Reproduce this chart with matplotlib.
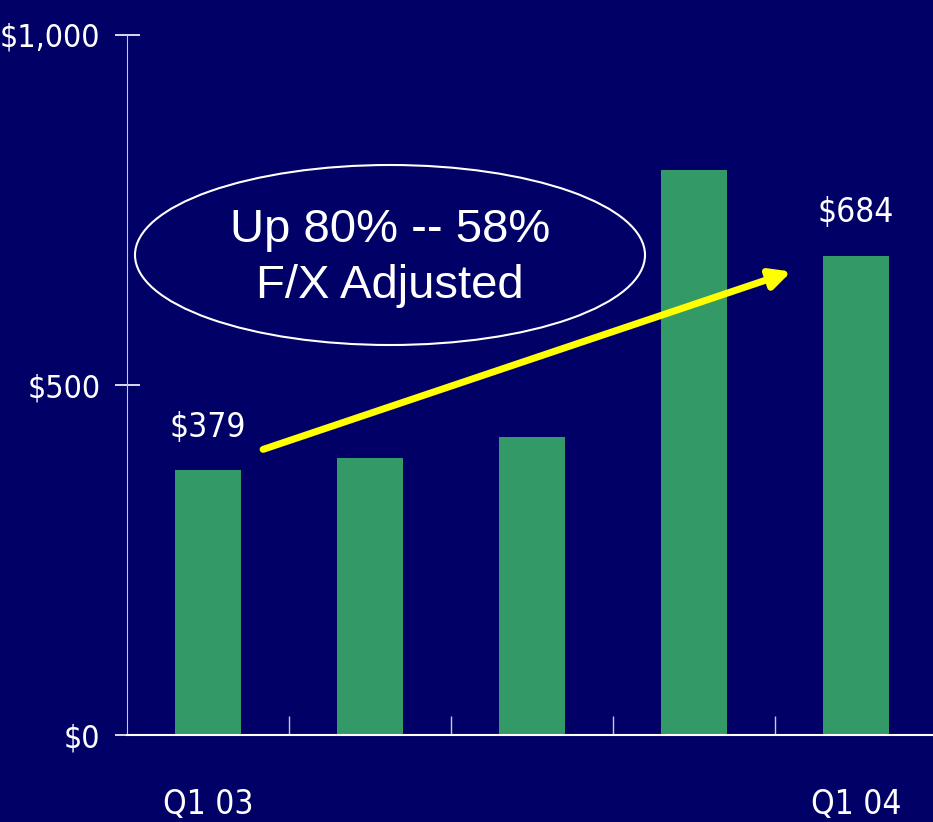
import matplotlib
matplotlib.use('Agg')
import matplotlib.pyplot as plt
from matplotlib.patches import Ellipse
from matplotlib import font_manager

# quarterly values, Q1 03 .. Q1 04
quarters = ['Q1 03', '', '', '', 'Q1 04']
values = [379, 396, 426, 807, 684]
yticks = [0, 500, 1000]
ytick_labels = ['$0', '$500', '$1,000']

bg = '#000066'
bar_color = '#339966'

# look for a narrow face (Arial Narrow look), else shrink regular sans
narrow = None
for f in font_manager.fontManager.ttflist:
    fn = f.fname.lower()
    if 'narrow' in fn or ('condensed' in fn and 'bold' not in fn and 'oblique' not in fn):
        narrow = f
        break
if narrow is not None:
    lab_font = dict(family=narrow.name, stretch=narrow.stretch, fontsize=24)
else:
    lab_font = dict(family='Liberation Sans', fontsize=23)
ytick_font = dict(lab_font, fontsize=lab_font['fontsize'] - 1)

fig = plt.figure(figsize=(9.33, 8.22), dpi=100, facecolor=bg)
ax = fig.add_axes([127 / 933, 87 / 822, 810 / 933, 700 / 822])
ax.set_facecolor(bg)

x = list(range(len(values)))
ax.bar(x, values, width=0.41, color=bar_color, zorder=2)

ax.set_xlim(-0.5, len(values) - 0.5)
ax.set_ylim(0, 1000)

for s in ['top', 'right']:
    ax.spines[s].set_visible(False)
ax.spines['left'].set_color('#c8c8d8')
ax.spines['bottom'].set_color('white')
ax.spines['bottom'].set_linewidth(1.5)

ax.set_yticks(yticks)
ax.set_yticklabels(ytick_labels, color='white', **ytick_font)
ax.tick_params(axis='y', direction='inout', length=18, width=1.2, color='white', pad=10)

# category boundary ticks pointing up
ax.set_xticks([i + 0.5 for i in range(len(values) - 1)], minor=True)
ax.tick_params(axis='x', which='minor', direction='in', length=14, width=1, color='#c8c8d8')
ax.set_xticks(x)
ax.set_xticklabels(quarters, color='white', **lab_font)
ax.tick_params(axis='x', which='major', length=0, pad=38)

ax.text(0, 439, '$379', ha='center', va='center', color='white', **lab_font)
ax.text(4, 746, '$684', ha='center', va='center', color='white', **lab_font)

ax.annotate('', xy=(3.6, 662), xytext=(0.34, 408),
            arrowprops=dict(arrowstyle='-|>,head_length=1.2,head_width=0.6',
                            color='#ffff00', lw=5, shrinkA=0, shrinkB=0), zorder=3)

# ellipse callout, placed in figure pixels
ell = Ellipse((390 / 933, 1 - 255 / 822), 510 / 933, 180 / 822,
              transform=fig.transFigure, fill=False, edgecolor='white', lw=1.5)
fig.patches.append(ell)
fig.text(390 / 933, 1 - 258 / 822, 'Up 80% -- 58%\nF/X Adjusted', ha='center', va='center',
         fontsize=34, color='white', family='Liberation Sans', linespacing=1.35)

fig.savefig('out.png', dpi=100, facecolor=bg)
